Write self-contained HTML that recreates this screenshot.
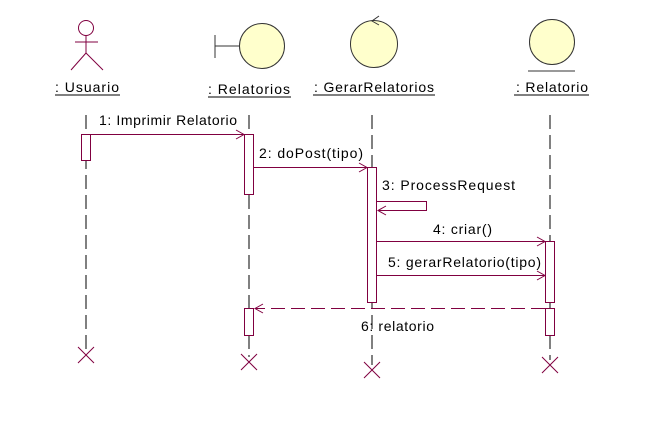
<!DOCTYPE html>
<html><head><style>
body{margin:0;background:#fff;}
svg text{font-family:"Liberation Sans",Arial,sans-serif;font-size:14px;fill:#000;}
</style></head><body>
<svg width="650" height="423" viewBox="0 0 650 423" xmlns="http://www.w3.org/2000/svg">
<rect width="650" height="423" fill="#fff"/>
<g stroke="#800040" fill="none" stroke-width="1">
<circle cx="86" cy="28" r="7.5"/>
<line x1="86" y1="35" x2="86" y2="53"/>
<line x1="75" y1="42" x2="98" y2="42"/>
<line x1="86" y1="53" x2="71" y2="70"/>
<line x1="86" y1="53" x2="103" y2="70"/>
</g>
<g stroke="#333" stroke-width="1">
<line x1="215" y1="35" x2="215" y2="58"/>
<line x1="215" y1="46" x2="239" y2="46"/>
<circle cx="262" cy="46" r="22.5" fill="#ffffcc"/>
<circle cx="374" cy="44" r="23.5" fill="#ffffcc"/>
<polyline points="379,16 372,21 379,25" fill="none"/>
<circle cx="552" cy="42" r="22.5" fill="#ffffcc"/>
<line x1="528" y1="71" x2="575" y2="71"/>
</g>
<text x="55" y="92" textLength="64" lengthAdjust="spacing">: Usuario</text>
<line x1="55" y1="95" x2="120" y2="95" stroke="#000"/>
<text x="208" y="94" textLength="82" lengthAdjust="spacing">: Relatorios</text>
<line x1="208" y1="97" x2="291" y2="97" stroke="#000"/>
<text x="314" y="92" textLength="120" lengthAdjust="spacing">: GerarRelatorios</text>
<line x1="313" y1="95" x2="435" y2="95" stroke="#000"/>
<text x="516" y="92" textLength="72" lengthAdjust="spacing">: Relatorio</text>
<line x1="514" y1="95" x2="589" y2="95" stroke="#000"/>
<g stroke="#000" stroke-dasharray="14,6">
<line x1="86" y1="115" x2="86" y2="350"/>
<line x1="249" y1="115" x2="249" y2="357"/>
<line x1="372" y1="115" x2="372" y2="365"/>
<line x1="550" y1="115" x2="550" y2="360"/>
</g>
<g stroke="#800040" fill="#fff">
<rect x="81.5" y="134.5" width="9" height="26"/>
<rect x="244.5" y="134.5" width="9" height="60"/>
<rect x="367.5" y="167.5" width="9" height="135"/>
<rect x="545.5" y="241.5" width="9" height="61"/>
<rect x="244.5" y="308.5" width="9" height="27"/>
<rect x="545.5" y="308.5" width="9" height="27"/>
</g>
<g stroke="#800040" fill="none">
<line x1="91" y1="134.5" x2="244" y2="134.5"/>
<polyline points="236,130 244,134.5 236,139"/>
<line x1="254" y1="167.5" x2="367" y2="167.5"/>
<polyline points="359,163 367,167.5 359,172"/>
<polyline points="377,201.5 426.5,201.5 426.5,210.5 378,210.5"/>
<polyline points="386,206 378,210.5 386,215"/>
<line x1="377" y1="241.5" x2="545" y2="241.5"/>
<polyline points="537,237 545,241.5 537,246"/>
<line x1="377" y1="275.5" x2="545" y2="275.5"/>
<polyline points="537,271 545,275.5 537,280"/>
<line x1="545" y1="308.5" x2="255" y2="308.5" stroke-dasharray="14,6"/>
<polyline points="263,304 255,308.5 263,313"/>
<path d="M78,347 L94,363 M94,347 L78,363"/>
<path d="M241,354 L257,370 M257,354 L241,370"/>
<path d="M364,362 L380,378 M380,362 L364,378"/>
<path d="M542,357 L558,373 M558,357 L542,373"/>
</g>
<text x="99" y="125" textLength="138" lengthAdjust="spacing">1: Imprimir Relatorio</text>
<text x="259" y="158" textLength="104" lengthAdjust="spacing">2: doPost(tipo)</text>
<text x="382" y="190" textLength="133" lengthAdjust="spacing">3: ProcessRequest</text>
<text x="433" y="234" textLength="59" lengthAdjust="spacing">4: criar()</text>
<text x="388" y="267" textLength="153" lengthAdjust="spacing">5: gerarRelatorio(tipo)</text>
<text x="361" y="331" textLength="73" lengthAdjust="spacing">6: relatorio</text>
</svg>
</body></html>
